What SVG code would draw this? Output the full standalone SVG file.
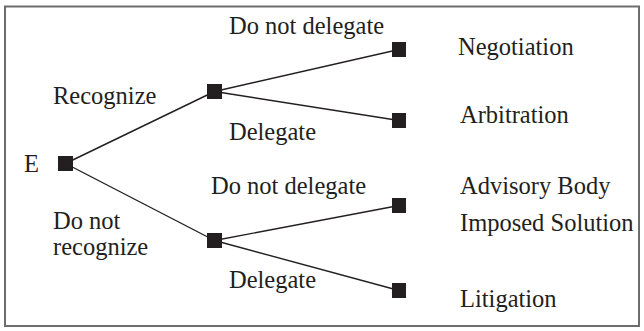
<svg xmlns="http://www.w3.org/2000/svg" width="644" height="331" viewBox="0 0 644 331">
<style>
.t{font-family:'Liberation Serif','Times New Roman',Times,serif;font-size:24.5px;fill:#231f20}
.n{fill:#231f20}
.c{stroke:#231f20;stroke-width:1.4;fill:none}
</style>
<rect x="0" y="0" width="644" height="331" fill="#fff"/>
<rect x="5" y="6.5" width="634" height="319.5" fill="none" stroke="#6d6d6d" stroke-width="2"/>
<g id="connectors">
<line class="c" x1="65.5" y1="163.5" x2="214.5" y2="91.5"/>
<line class="c" x1="65.5" y1="163.5" x2="214.5" y2="240.5"/>
<line class="c" x1="214.5" y1="91.5" x2="399" y2="49.5"/>
<line class="c" x1="214.5" y1="91.5" x2="399" y2="120.5"/>
<line class="c" x1="214.5" y1="240.5" x2="399" y2="205.5"/>
<line class="c" x1="214.5" y1="240.5" x2="399" y2="290.5"/>
</g>
<g id="labels" class="t">
<text x="229" y="34">Do not delegate</text>
<text x="53" y="104">Recognize</text>
<text x="229" y="140">Delegate</text>
<text x="211" y="194">Do not delegate</text>
<text x="53" y="229">Do not</text>
<text x="53" y="255">recognize</text>
<text x="229" y="288">Delegate</text>
</g>
<g id="E"><text class="t" x="24" y="172">E</text><rect class="n" x="58" y="156" width="15" height="15"/></g>
<g id="m1"><rect class="n" x="207" y="84" width="15" height="15"/></g>
<g id="m2"><rect class="n" x="207" y="233" width="15" height="15"/></g>
<g id="negotiation"><rect class="n" x="392" y="42" width="14" height="15"/><text class="t" x="458" y="55">Negotiation</text></g>
<g id="arbitration"><rect class="n" x="392" y="113" width="14" height="15"/><text class="t" x="460" y="123">Arbitration</text></g>
<g id="advisory"><rect class="n" x="392" y="198" width="14" height="15"/><text class="t" x="460" y="194">Advisory Body</text><text class="t" x="460" y="231">Imposed Solution</text></g>
<g id="litigation"><rect class="n" x="392" y="283" width="14" height="15"/><text class="t" x="460" y="307">Litigation</text></g>
</svg>
